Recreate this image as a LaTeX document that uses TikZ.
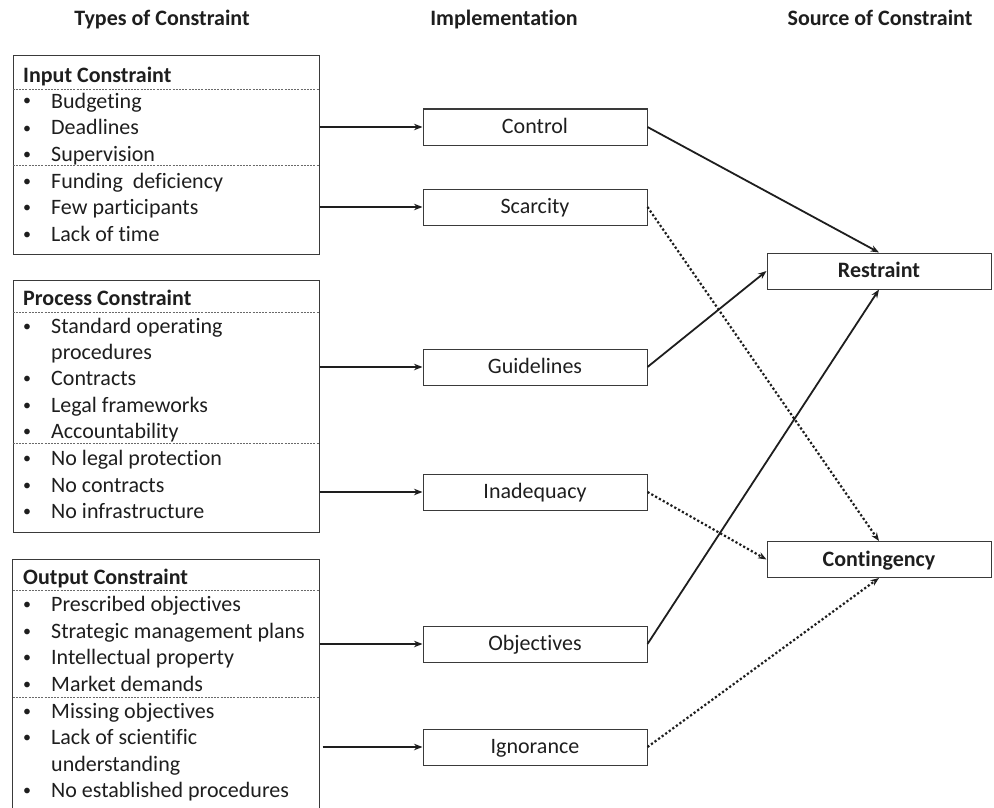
\documentclass[tikz,border=0pt]{standalone}
\usepackage{fontspec}
\setmainfont{Carlito}[Ligatures={NoCommon}]
\usetikzlibrary{arrows.meta}
\definecolor{ink}{HTML}{1E1E1E}
\definecolor{frame}{HTML}{3A3A3A}
\definecolor{divider}{HTML}{6A6A6A}
\begin{document}
\begin{tikzpicture}[x=1pt,y=-1pt,
  body/.style={font=\fontsize{22}{26}\selectfont, text=ink, inner sep=0pt},
  item/.style={body, anchor=base west},
  bul/.style={font=\fontsize{16}{16}\selectfont, text=ink, inner sep=0pt, anchor=base},
  hdr/.style={item, font=\fontsize{22}{26}\selectfont\bfseries},
  coltitle/.style={font=\fontsize{22}{26}\selectfont\bfseries, text=ink, anchor=base, inner sep=0pt},
  lbox/.style={draw=frame, line width=1pt, inner sep=0pt, minimum width=306pt},
  mbox/.style={body, draw=frame, line width=1pt, minimum width=224pt, minimum height=36pt, text height=15pt, text depth=2pt},
  rbox/.style={mbox, font=\fontsize{22}{26}\selectfont\bfseries},
  divline/.style={draw=divider, line width=0.8pt, dash pattern=on 2pt off 1.2pt},
  arr/.style={draw=ink, line width=1.8pt, -{Stealth[length=8.5pt,width=6.5pt]}},
  dotarr/.style={arr, line width=2.2pt, dash pattern=on 2.2pt off 2.2pt}
]
\useasboundingbox (0,0) rectangle (994,808);

% column titles
\node[coltitle] (t1) at (162,26) {Types of Constraint};
\node[coltitle] (t2) at (504,26) {Implementation};
\node[coltitle] (t3) at (880,26) {Source of Constraint};

% left boxes
\node[lbox, minimum height=198pt] (inbox) at (166,155) {};
\node[lbox, minimum height=252pt] (procbox) at (166,406) {};
\node[lbox, draw=none, minimum height=250pt] (outbox) at (166,685) {};
\draw[draw=frame, line width=1pt] (outbox.south west) -- (outbox.north west) -- (outbox.north east) -- (outbox.south east);

% dividers
\draw[divline] (inbox.west |- 0,89) -- (inbox.east |- 0,89);
\draw[divline] (inbox.west |- 0,165) -- (inbox.east |- 0,165);
\draw[divline] (procbox.west |- 0,312) -- (procbox.east |- 0,312);
\draw[divline] (procbox.west |- 0,443) -- (procbox.east |- 0,443);
\draw[divline] (outbox.west |- 0,590) -- (outbox.east |- 0,590);
\draw[divline] (outbox.west |- 0,697) -- (outbox.east |- 0,697);

% headers
\node[hdr] (h1) at (23,82) {Input Constraint};
\node[hdr] (h2) at (23,305) {Process Constraint};
\node[hdr] (h3) at (23,584) {Output Constraint};

% input items
\foreach \t/\y [count=\k] in {Budgeting/108, Deadlines/135, Supervision/161, Funding\ \ deficiency/188, Few participants/214, Lack of time/241}{
  \node[bul] (ib\k) at (27,\y-2) {•};
  \node[item] (it\k) at (51,\y) {\t};
}
% process items
\foreach \t/\y [count=\k] in {Standard operating/333, Contracts/385, Legal frameworks/412, Accountability/438, No legal protection/465, No contracts/492, No infrastructure/518}{
  \node[bul] (pb\k) at (27,\y-2) {•};
  \node[item] (pt\k) at (51,\y) {\t};
}
\node[item] (ptx) at (51,359) {procedures};
% output items
\foreach \t/\y [count=\k] in {Prescribed objectives/611, Strategic management plans/638, Intellectual property/664, Market demands/691, Missing objectives/718, Lack of scientific/744, No established procedures/797}{
  \node[bul] (ob\k) at (27,\y-2) {•};
  \node[item] (ot\k) at (51,\y) {\t};
}
\node[item] (otx) at (51,771) {understanding};

% middle boxes
\node[mbox] (control) at (535,127) {Control};
\node[mbox] (scarcity) at (535,207) {Scarcity};
\node[mbox] (guidelines) at (535,367) {Guidelines};
\node[mbox] (inadequacy) at (535,492) {Inadequacy};
\node[mbox] (objectives) at (535,644) {Objectives};
\node[mbox] (ignorance) at (535,747) {Ignorance};

% right boxes
\node[rbox] (restraint) at (879,271) {Restraint};
\node[rbox] (contingency) at (879,559.5) {Contingency};

% left to middle
\draw[arr] (inbox.east |- control) -- (control);
\draw[arr] (inbox.east |- scarcity) -- (scarcity);
\draw[arr] (procbox.east |- guidelines) -- (guidelines);
\draw[arr] (procbox.east |- inadequacy) -- (inadequacy);
\draw[arr] (outbox.east |- objectives) -- (objectives);
\draw[arr] ([xshift=3pt]outbox.east |- ignorance) -- (ignorance);

% middle to right
\draw[arr] (control.east) -- (restraint.north);
\draw[arr] (guidelines.east) -- (restraint.west);
\draw[arr] (objectives.east) -- (restraint.south);
\draw[dotarr] (scarcity.east) -- (contingency.north);
\draw[dotarr] (inadequacy.east) -- (contingency.west);
\draw[dotarr] (ignorance.east) -- (contingency.south);
\end{tikzpicture}
\end{document}
